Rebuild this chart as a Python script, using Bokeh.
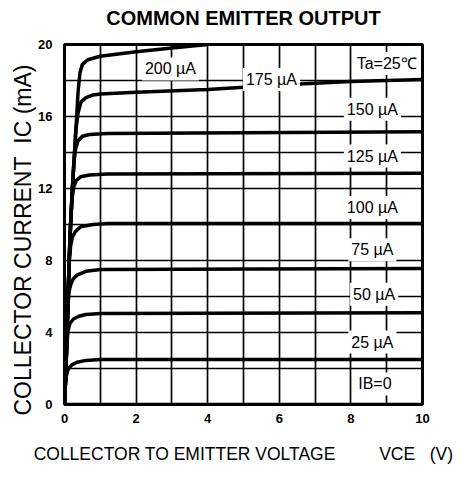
from bokeh.plotting import figure
from bokeh.models import Label, FixedTicker, Range1d, LinearAxis, Title
from bokeh.embed import file_html
from bokeh.resources import INLINE

# ---- data (VCE in V, IC in mA) ----
x_ticks = [0, 2, 4, 6, 8, 10]
y_ticks = [0, 4, 8, 12, 16, 20]
x_grid = [1, 2, 3, 4, 5, 6, 7, 8, 9]
y_grid = [2, 4, 6, 8, 10, 12, 14, 16, 18]

vce_0 = [0, 10]
ic_0 = [0, 0]

vce_25 = [0, 0.02, 0.05, 0.1, 0.2, 0.35, 0.6, 1.0, 10]
ic_25 = [0, 1.0, 1.6, 1.95, 2.2, 2.35, 2.45, 2.5, 2.5]

vce_50 = [0, 0.04, 0.07, 0.1, 0.15, 0.25, 0.4, 0.6, 1.0, 10]
ic_50 = [0, 2.0, 3.5, 4.1, 4.5, 4.75, 4.9, 5.0, 5.05, 5.1]

vce_75 = [0, 0.04, 0.07, 0.1, 0.13, 0.18, 0.25, 0.36, 0.6, 1.0, 10]
ic_75 = [0, 2.0, 4.0, 5.6, 6.3, 6.7, 7.0, 7.2, 7.4, 7.5, 7.55]

vce_100 = [0, 0.04, 0.07, 0.1, 0.13, 0.17, 0.22, 0.3, 0.45, 0.8, 1.2, 10]
ic_100 = [0, 2.0, 4.0, 6.0, 7.8, 8.8, 9.3, 9.6, 9.88, 10.0, 10.05, 10.05]

vce_125 = [0, 0.04, 0.07, 0.1, 0.13, 0.17, 0.21, 0.26, 0.33, 0.45, 0.7, 1.2, 10]
ic_125 = [0, 2.0, 4.0, 6.0, 8.0, 10.0, 11.4, 12.1, 12.45, 12.65, 12.75, 12.8, 12.85]

vce_150 = [0, 0.04, 0.07, 0.1, 0.13, 0.17, 0.22, 0.26, 0.31, 0.38, 0.5, 0.7, 1.2, 10]
ic_150 = [0, 2.0, 4.0, 6.0, 8.0, 10.0, 12.0, 13.4, 14.2, 14.65, 14.9, 15.0, 15.05, 15.15]

vce_175 = [0, 0.04, 0.07, 0.1, 0.13, 0.17, 0.22, 0.28, 0.32, 0.38, 0.46, 0.6, 0.8, 1.0, 2, 4, 6, 8, 10]
ic_175 = [0, 2.0, 4.0, 6.0, 8.0, 10.0, 12.0, 14.0, 15.3, 16.2, 16.8, 17.05, 17.2, 17.25, 17.35, 17.5, 17.75, 17.95, 18.05]

vce_200 = [0, 0.04, 0.07, 0.1, 0.13, 0.17, 0.22, 0.28, 0.34, 0.38, 0.43, 0.5, 0.65, 1.0, 2, 3, 4]
ic_200 = [0, 2.0, 4.0, 6.0, 8.0, 10.0, 12.0, 14.0, 16.0, 17.4, 18.4, 18.9, 19.15, 19.35, 19.6, 19.8, 20.0]

curve_labels = ["200 µA", "175 µA", "150 µA", "125 µA", "100 µA", "75 µA", "50 µA", "25 µA", "IB=0", "Ta=25℃"]
label_x = [2.96, 5.78, 8.6, 8.6, 8.6, 8.6, 8.65, 8.6, 8.67, 9.0]
label_y = [18.64, 18.05, 16.4, 13.8, 10.95, 8.6, 6.13, 3.47, 1.14, 18.94]

title_text = "COMMON EMITTER OUTPUT"
x_label = "COLLECTOR TO EMITTER VOLTAGE" + "\u00a0" * 9 + "VCE" + "\u00a0" * 3 + "(V)"
y_label = "COLLECTOR CURRENT" + "\u00a0" * 2 + "IC (mA)"

FONT = "Liberation Sans"

p = figure(width=459, height=468, x_range=Range1d(0, 10), y_range=Range1d(0, 20),
           output_backend="svg", toolbar_location=None,
           min_border_left=64, min_border_right=37, min_border_top=44, min_border_bottom=64)
p.background_fill_color = "white"
p.border_fill_color = "white"
p.outline_line_color = "black"
p.outline_line_width = 3

# axes
for ax in (p.xaxis, p.yaxis):
    ax.axis_line_color = "black"
    ax.axis_line_width = 3
    ax.major_tick_line_color = None
    ax.minor_tick_line_color = None
    ax.major_tick_out = 0
    ax.major_tick_in = 0
    ax.major_label_text_font = FONT
    ax.major_label_text_font_style = "bold"
    ax.major_label_text_font_size = "13px"
    ax.major_label_text_color = "black"
p.xaxis.ticker = FixedTicker(ticks=x_ticks)
p.yaxis.ticker = FixedTicker(ticks=y_ticks)
p.xaxis.major_label_standoff = 9
p.yaxis.major_label_standoff = 12

p.xaxis.axis_label = x_label
p.xaxis.axis_label_text_font = FONT
p.xaxis.axis_label_text_font_style = "normal"
p.xaxis.axis_label_text_font_size = "17.5px"
p.xaxis.axis_label_text_color = "black"
p.xaxis.axis_label_standoff = 18

# title drawn as the label of an empty axis above the frame
top_ax = LinearAxis(ticker=FixedTicker(ticks=[]), axis_line_color=None,
                    major_tick_line_color=None, minor_tick_line_color=None,
                    major_tick_out=0, major_tick_in=0, major_label_standoff=0,
                    axis_label=title_text, axis_label_standoff=16,
                    axis_label_text_font=FONT, axis_label_text_font_style="bold",
                    axis_label_text_font_size="20px", axis_label_text_color="black")
p.add_layout(top_ax, "above")

# y label as a side title, positioned from the bottom
p.add_layout(Title(text=y_label, align="left", offset=-11, standoff=0,
                   text_font=FONT, text_font_style="normal", text_font_size="23px",
                   text_color="black", vertical_align="bottom"), "left")

p.xgrid.ticker = FixedTicker(ticks=x_grid)
p.ygrid.ticker = FixedTicker(ticks=y_grid)
for g in (p.xgrid, p.ygrid):
    g.grid_line_color = "black"
    g.grid_line_width = 1.7
    g.grid_line_alpha = 1.0

series = [(vce_0, ic_0), (vce_25, ic_25), (vce_50, ic_50), (vce_75, ic_75),
          (vce_100, ic_100), (vce_125, ic_125), (vce_150, ic_150),
          (vce_175, ic_175), (vce_200, ic_200)]
for xs, ys in series:
    p.line(xs, ys, line_color="black", line_width=3.5, line_join="round", line_cap="round")

for t, lx, ly in zip(curve_labels, label_x, label_y):
    p.add_layout(Label(x=lx, y=ly, text=t, text_align="center", text_baseline="middle",
                       text_font=FONT, text_font_size="16px", text_color="black",
                       background_fill_color="white", padding=3))

open("out.html", "w").write(file_html(p, INLINE))
